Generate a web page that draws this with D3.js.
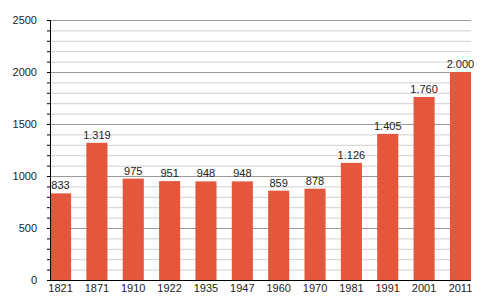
<!DOCTYPE html>
<html><head><meta charset="utf-8">
<script src="https://cdn.jsdelivr.net/npm/d3@7"></script>
<style>body{margin:0;background:#fff}text{font-family:"Liberation Sans",Arial,sans-serif}</style>
</head><body><svg id="c" width="500" height="300"></svg>
<script>
const years = ["1821","1871","1910","1922","1935","1947","1960","1970","1981","1991","2001","2011"];
const population = [833,1319,975,951,948,948,859,878,1126,1405,1760,2000];
const valueLabels = ["833","1.319","975","951","948","948","859","878","1.126","1.405","1.760","2.000"];
const yTicks = [0,500,1000,1500,2000,2500];

const svg = d3.select("#c");
const m = {l:50, r:29, t:20, b:20};
const W = 500, H = 300;
const x = d3.scaleBand().domain(years).range([m.l, W-m.r]).paddingInner(0.42).paddingOuter(0);
const y = d3.scaleLinear().domain([0,2500]).range([H-m.b, m.t]);

const minor = d3.range(0,2501,100);
svg.append("g").selectAll("line").data(minor).join("line")
  .attr("x1", m.l).attr("x2", W-m.r)
  .attr("y1", d=>y(d)+0.5).attr("y2", d=>y(d)+0.5)
  .attr("stroke", d=> d%500===0 ? "#9a9a9a" : "#cfcfcf").attr("stroke-width",1);

svg.append("g").selectAll("line").data(minor).join("line")
  .attr("x1", m.l-3).attr("x2", m.l)
  .attr("y1", d=>y(d)+0.5).attr("y2", d=>y(d)+0.5)
  .attr("stroke","#000");

svg.append("g").selectAll("rect").data(population).join("rect")
  .attr("x",(d,i)=>x(years[i])).attr("width",x.bandwidth())
  .attr("y",d=>y(d)).attr("height",d=>y(0)-y(d))
  .attr("fill","#e4573d");

svg.append("g").selectAll("text").data(population).join("text")
  .attr("x",(d,i)=>x(years[i])+x.bandwidth()/2).attr("y",d=>y(d)-4)
  .attr("text-anchor","middle").attr("font-size",11).attr("fill","#222")
  .text((d,i)=>valueLabels[i]);

svg.append("line").attr("x1",m.l+0.5).attr("x2",m.l+0.5).attr("y1",m.t).attr("y2",H-m.b).attr("stroke","#000");
svg.append("line").attr("x1",m.l).attr("x2",W-m.r).attr("y1",H-m.b+0.5).attr("y2",H-m.b+0.5).attr("stroke","#000");

svg.append("g").selectAll("text").data(yTicks).join("text")
  .attr("x",37).attr("y",d=>y(d)+4).attr("text-anchor","end")
  .attr("font-size",11).attr("fill","#222").text(d=>d);

svg.append("g").selectAll("text").data(years).join("text")
  .attr("x",d=>x(d)+x.bandwidth()/2).attr("y",292)
  .attr("text-anchor","middle").attr("font-size",11).attr("fill","#222").text(d=>d);
</script></body></html>
